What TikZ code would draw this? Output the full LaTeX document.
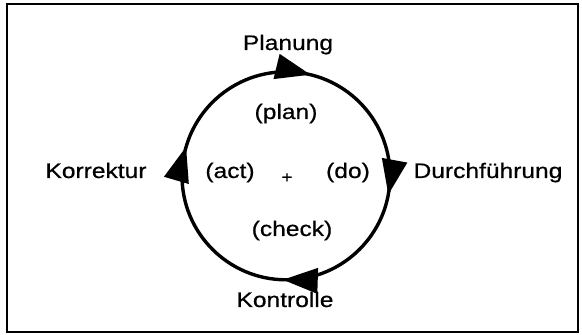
\documentclass[tikz,border=0pt]{standalone}
\usepackage{fontspec}
\setmainfont{Liberation Sans}[FakeStretch=1.17,FakeBold=0.6]
\usetikzlibrary{arrows.meta,decorations.markings}
\begin{document}
\begin{tikzpicture}[x=1pt,y=1pt,
  lbl/.style={inner sep=0pt,anchor=base,font=\fontsize{21}{25}\selectfont},
  cycline/.style={line width=3.4pt},
  tipmark/.style={postaction={decorate,decoration={markings,
    mark=at position #1 with {\arrow{Triangle[length=35pt,width=25pt]}}}}},
  frame/.style={line width=1.6pt}]
\useasboundingbox (0,0) rectangle (582,335);
\draw[frame] (7,3) rectangle (578,331);
\node[circle,minimum size=208pt,inner sep=0pt] (cyc) at (286,159) {};
\coordinate (start) at (cyc.north);
\draw[cycline,tipmark=0.038,tipmark=0.279,tipmark=0.505,tipmark=0.795]
  (start) arc[start angle=90,end angle=-270,radius=104pt];
\node[lbl] (planung) at (288,285) {Planung};
\node[lbl] (plan) at (286,216) {(plan)};
\node[lbl] (korrektur) at (96,157) {Korrektur};
\node[lbl] (act) at (230,157) {(act)};
\node[lbl] (do) at (348,157) {(do)};
\node[lbl] (durch) at (488,157) {Durchführung};
\node[inner sep=0pt,font=\fontsize{16}{18}\selectfont] (plus) at (287,157) {+};
\node[lbl] (check) at (292,99) {(check)};
\node[lbl] (kontrolle) at (285,28) {Kontrolle};
\end{tikzpicture}
\end{document}
